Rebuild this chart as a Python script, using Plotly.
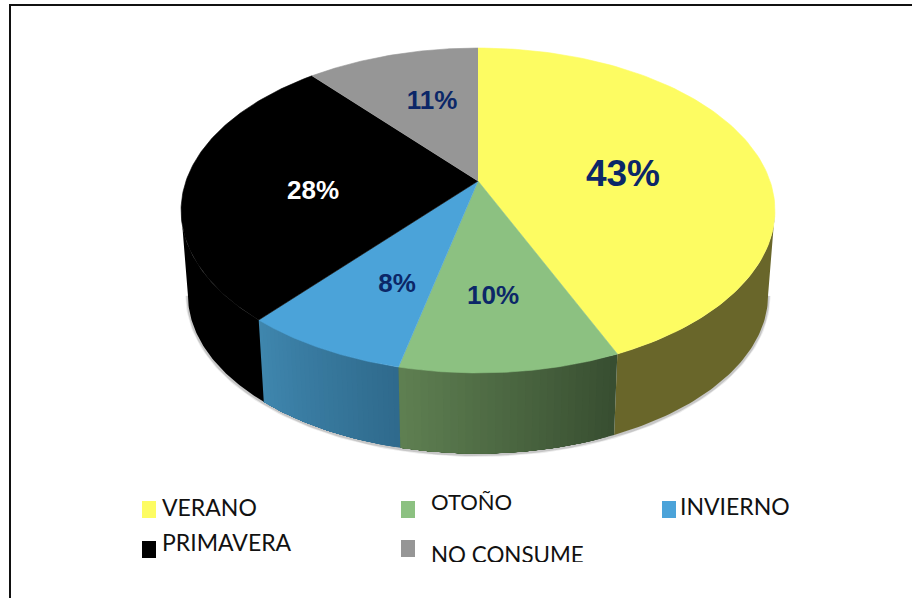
import numpy as np
import plotly.graph_objects as go

CATEGORIES = ["VERANO", "OTOÑO", "INVIERNO", "PRIMAVERA", "NO CONSUME"]
# unrounded shares estimated from the slice edges, the labels round them
VALUES = [43.49, 10.11, 7.6, 27.6, 11.2]

TOP_COLORS = ["#FDFC62", "#8CC181", "#4BA3D9", "#000000", "#969696"]
WALL_LEFT = ["#69662A", "#5F8052", "#3F86AE", "#000000", "#969696"]
WALL_RIGHT = ["#69662A", "#374D30", "#2F6A8C", "#000000", "#969696"]
LABEL_COLORS = ["#0B2768", "#0B2768", "#0B2768", "#FFFFFF", "#0B2768"]
LABEL_SIZES = [37, 26, 26, 26, 26]
LABEL_POS = [(623, 177), (493, 297), (397, 285), (313, 192), (432, 102)]

# pie projection, pixels
APEX_X, APEX_Y = 478, 181
SCALE_X, SCALE_Y, TILT = 292, 157.1, 0.1815
BASE_SCALE, DEPTH = 0.977, 85
# where the rim turns away from the viewer
RIM_START, RIM_END = 100.46, 259.54


def project(angle, base=False):
    # angle in degrees clockwise from 12 o'clock
    a = np.radians(angle)
    u, v = np.sin(a), -np.cos(a)
    w = 1 - TILT * v
    x, y = SCALE_X * u / w, SCALE_Y * v / w
    if base:
        return APEX_X + BASE_SCALE * x, APEX_Y + BASE_SCALE * y + DEPTH
    return APEX_X + x, APEX_Y + y


def mix(c1, c2, t):
    a = [int(c1[i:i + 2], 16) for i in (1, 3, 5)]
    b = [int(c2[i:i + 2], 16) for i in (1, 3, 5)]
    return "rgb(%d,%d,%d)" % tuple(round(p + (q - p) * t) for p, q in zip(a, b))


def poly(x, y, color, edge=0.6):
    return go.Scatter(
        x=x, y=y, mode="lines", fill="toself", fillcolor=color,
        line=dict(color=color, width=edge), hoverinfo="skip", showlegend=False,
    )


shares = np.array(VALUES) / sum(VALUES) * 360
ends = np.cumsum(shares)
starts = ends - shares

fig = go.Figure()

# soft shadow along the lower outline
sweep = np.linspace(RIM_START, RIM_END, 200)
sx, sy = project(sweep, base=True)
for width, alpha in [(5, 0.12), (3, 0.25)]:
    fig.add_trace(go.Scatter(
        x=sx, y=sy + 1, mode="lines", line=dict(color=f"rgba(90,90,90,{alpha})", width=width),
        hoverinfo="skip", showlegend=False,
    ))

# walls: each strip runs on to the slice end and the next one paints over it, so no seams
for i in range(len(VALUES)):
    lo, hi = max(starts[i], RIM_START), min(ends[i], RIM_END)
    if hi <= lo:
        continue
    count = 30 if WALL_LEFT[i] != WALL_RIGHT[i] else 1
    steps = np.linspace(lo, hi, count + 1)
    for j in range(count):
        seg = np.linspace(steps[j], hi, 60)
        tx, ty = project(seg)
        bx, by = project(seg, base=True)
        t = 1 - (j + 0.5) / count
        fig.add_trace(poly(
            np.r_[tx, bx[::-1]], np.r_[ty, by[::-1]],
            mix(WALL_LEFT[i], WALL_RIGHT[i], t), edge=0,
        ))

# top face
for i in range(len(VALUES)):
    seg = np.linspace(starts[i], ends[i], 120)
    rx, ry = project(seg)
    fig.add_trace(poly(np.r_[APEX_X, rx], np.r_[APEX_Y, ry], TOP_COLORS[i]))

# percent labels
for i, value in enumerate(VALUES):
    fig.add_trace(go.Scatter(
        x=[LABEL_POS[i][0]], y=[LABEL_POS[i][1]], mode="text", text=[f"{round(value)}%"],
        textposition="middle center", hoverinfo="skip", showlegend=False,
        textfont=dict(family="Liberation Sans", size=LABEL_SIZES[i], color=LABEL_COLORS[i], weight="bold"),
    ))

# hand placed legend, positions follow the picture
SWATCHES = [(142, 501), (401, 501), (662, 501), (142, 541), (401, 540)]
LEGEND_POS = [(162, 510), (431, 504), (680, 509), (162, 545), (431, 557)]
LEGEND_SIZES = [23, 22, 23, 23, 22.4]
shapes = [
    dict(type="rect", x0=x, x1=x + 14, y0=y, y1=y + 17, fillcolor=TOP_COLORS[i], line_width=0, layer="above")
    for i, (x, y) in enumerate(SWATCHES)
]
# frame of the picture
shapes.append(dict(type="rect", x0=10, x1=930, y0=5, y1=640, line=dict(color="#111111", width=2), layer="below"))
# NO CONSUME is cut off at the bottom in the original
shapes.append(dict(type="rect", x0=425, x1=600, y0=562, y1=585, fillcolor="#FFFFFF", line_width=0, layer="above"))

for i, name in enumerate(CATEGORIES):
    fig.add_trace(go.Scatter(
        x=[LEGEND_POS[i][0]], y=[LEGEND_POS[i][1]], mode="text", text=[name],
        textposition="middle right", hoverinfo="skip", showlegend=False,
        textfont=dict(family="Lato", size=LEGEND_SIZES[i], color="#111111"),
    ))

fig.update_layout(
    width=912,
    height=598,
    margin=dict(l=0, r=0, t=0, b=0),
    paper_bgcolor="#FFFFFF",
    plot_bgcolor="#FFFFFF",
    shapes=shapes,
)
fig.update_xaxes(range=[0, 912], visible=False)
fig.update_yaxes(range=[598, 0], visible=False)

fig.write_html(
    "out.html",
    config={"displayModeBar": False},
    post_script="document.body.style.margin='0';document.body.style.overflow='hidden';",
)
